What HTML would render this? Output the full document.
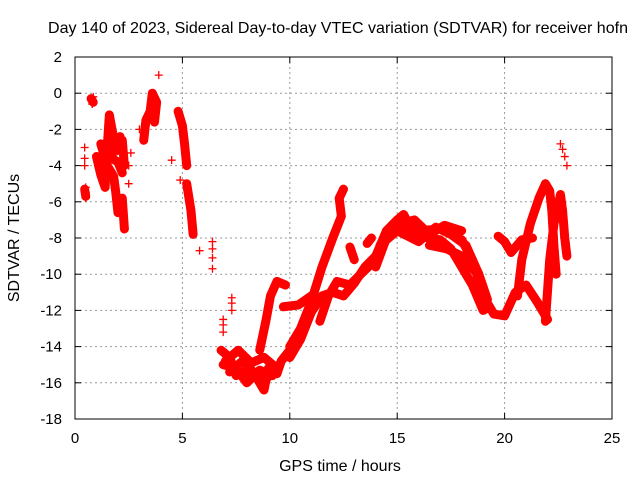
<!DOCTYPE html>
<html><head><meta charset="utf-8"><style>
body{margin:0;background:#fff}
svg{display:block;font-family:"Liberation Sans",sans-serif}
</style></head><body>
<svg width="640" height="480">
<rect width="640" height="480" fill="#fff"/>
<text x="338" y="33" text-anchor="middle" font-size="16" textLength="580" lengthAdjust="spacingAndGlyphs">Day 140 of 2023, Sidereal Day-to-day VTEC variation (SDTVAR) for receiver hofn</text>
<text x="340" y="471" text-anchor="middle" font-size="16">GPS time / hours</text>
<text transform="translate(19,238) rotate(-90)" text-anchor="middle" font-size="16">SDTVAR / TECUs</text>
<g id="grid"></g>
<g id="ticks"></g>
<g id="marks"></g>
<rect x="75" y="57" width="537" height="362" fill="none" stroke="#000"/>
</svg>
<script>
const xTicks=[0,5,10,15,20,25];
const yTicks=[2,0,-2,-4,-6,-8,-10,-12,-14,-16,-18];
const isolatedPoints=[[0.45,-3],[0.45,-3.6],[0.45,-4],[0.5,-5.2],[0.5,-5.5],[0.5,-5.8],[0.75,-0.3],[0.8,-0.6],[0.85,-0.2],[2.5,-5],[2.5,-4],[2.6,-3.3],[3.0,-2],[4.5,-3.7],[4.9,-4.8],[5.8,-8.7],[6.4,-8.2],[6.4,-8.6],[6.4,-9.1],[6.4,-9.7],[6.9,-12.5],[6.9,-12.8],[6.9,-13.2],[7.3,-11.3],[7.3,-11.6],[7.3,-12],[3.9,1],[22.6,-2.8],[22.7,-3.1],[22.8,-3.5],[22.9,-4]];
const tracks=[
[[0.75,-0.3],[0.85,-0.5]],
[[0.45,-5.3],[0.5,-5.7]],
[[1.0,-3.5],[1.2,-4.5],[1.4,-5.2],[1.5,-3],[1.6,-1.2],[1.8,-2.5],[2.0,-3],[2.2,-2.6],[2.3,-4]],
[[1.2,-2.8],[1.5,-4],[1.8,-4.6],[1.9,-5.5],[2.0,-6.6]],
[[1.1,-4],[1.4,-3],[1.7,-3.6],[2.0,-3.8],[2.2,-4.4]],
[[1.6,-2.2],[1.9,-3.2],[2.1,-2.4]],
[[2.2,-5.8],[2.3,-7.5]],
[[3.2,-2.6],[3.3,-1.5],[3.5,-1],[3.6,0],[3.8,-0.5],[3.7,-1.6]],
[[4.8,-1],[5.0,-1.8],[5.1,-2.8],[5.2,-4]],
[[5.2,-5],[5.4,-6.5],[5.5,-7.8]],
[[6.8,-14.2],[7.2,-14.6],[7.5,-15.6],[8.0,-15.3],[8.5,-15.8],[8.8,-16.4],[9.0,-15.2],[9.4,-15.5],[9.6,-14.8],[10.0,-14.2]],
[[7.0,-14.8],[7.6,-14.2],[8.2,-14.9],[8.8,-14.6],[9.2,-15.0]],
[[6.9,-15.0],[7.5,-15.2],[8.0,-16.0],[8.6,-15.3],[9.2,-15.6]],
[[7.2,-15.4],[7.8,-14.8],[8.3,-15.4],[8.9,-15.8],[9.5,-15.0]],
[[8.6,-14.2],[8.9,-12.5],[9.1,-11.2],[9.4,-10.4],[9.8,-10.6]],
[[10.0,-14.0],[10.5,-13],[11.0,-11.5],[11.5,-9.6],[12.0,-8],[12.4,-6.8],[12.3,-5.8],[12.5,-5.3]],
[[10.0,-14.6],[10.5,-13.6],[11.0,-12.1],[11.5,-11.2],[12.0,-11],[12.5,-11.2],[13.0,-10.5],[13.5,-9.6],[14.0,-9.0],[14.5,-7.6],[15.0,-7.0],[15.3,-6.7],[15.6,-7.4],[16.0,-7.6],[17.0,-7.5],[18.0,-8.1],[18.5,-9.2],[19.0,-11.2],[19.5,-12.2],[20.0,-12.3],[20.5,-11],[21.0,-10.6],[21.5,-11.5],[22.0,-12.5]],
[[11.4,-12.6],[11.8,-11.2],[12.2,-10.4],[12.8,-10.6],[13.3,-10.0],[14.0,-9.2]],
[[9.7,-11.8],[10.4,-11.7],[11.0,-11.2]],
[[12.8,-8.5],[13.0,-9.2]],[[13.6,-8.3],[13.8,-8]],
[[14.0,-9.6],[14.5,-8],[15.0,-7.2],[16.0,-7.9],[17.0,-8.1],[17.5,-8.6],[18.0,-9.6],[18.5,-10.6],[19.0,-12],[19.3,-11.8]],
[[14.2,-8.4],[15.0,-7.6],[16.0,-8.2],[16.8,-7.4],[17.5,-7.8],[18.2,-8.4],[18.8,-10.0],[19.2,-11.4]],
[[15.2,-7.2],[15.8,-7.0],[16.5,-7.8],[17.2,-7.3],[18.0,-7.6]],
[[16.5,-8.4],[17.3,-8.6],[18.0,-9.0],[18.6,-9.8]],
[[19.7,-7.9],[20.0,-8.2],[20.3,-8.8],[20.8,-8.1],[21.3,-8.0]],
[[20.6,-11.2],[20.8,-9.2],[21.2,-7.2],[21.6,-5.8],[21.9,-5.0],[22.1,-5.4],[22.2,-6.5],[22.3,-8.5],[22.4,-10]],
[[21.9,-12.6],[22.1,-9.2],[22.3,-7.2],[22.5,-6.2],[22.6,-5.6],[22.7,-6.5],[22.8,-8],[22.9,-9]]
];
const X=h=>75+h*537/25, Y=v=>57+(2-v)*362/20;
const NS="http://www.w3.org/2000/svg";
const grid=document.getElementById('grid'),ticks=document.getElementById('ticks'),marks=document.getElementById('marks');
function mk(tag,attrs,parent){const e=document.createElementNS(NS,tag);for(const k in attrs)e.setAttribute(k,attrs[k]);parent.appendChild(e);return e;}
xTicks.forEach(t=>{const x=X(t);
 if(t>0&&t<25){const g=mk('line',{x1:x,x2:x,y1:57,y2:419,stroke:'#999','stroke-dasharray':'2,3'},grid);}
 mk('line',{x1:x,x2:x,y1:419,y2:413,stroke:'#000'},ticks);mk('line',{x1:x,x2:x,y1:57,y2:63,stroke:'#000'},ticks);
 const tx=mk('text',{x:x,y:443,'text-anchor':'middle','font-size':'15'},ticks);tx.textContent=t;
 
 });
yTicks.forEach(t=>{const y=Y(t);
 if(t<2&&t>-18){const g=mk('line',{x1:75,x2:612,y1:y,y2:y,stroke:'#999','stroke-dasharray':'2,3'},grid);}
 mk('line',{x1:75,x2:81,y1:y,y2:y,stroke:'#000'},ticks);mk('line',{x1:606,x2:612,y1:y,y2:y,stroke:'#000'},ticks);
 const tx=mk('text',{x:62,y:y+5,'text-anchor':'end','font-size':'15'},ticks);tx.textContent=t;
 
 });
function plus(h,v){const x=X(h),y=Y(v);const p=mk('path',{d:`M${x-4},${y}H${x+4}M${x},${y-4}V${y+4}`,stroke:'#f00','stroke-width':1.3,fill:'none'},marks);
 
 }
tracks.forEach(tr=>{const pl=mk('polyline',{points:tr.map(p=>X(p[0])+','+Y(p[1])).join(' '),fill:'none',stroke:'#f00','stroke-width':9,'stroke-linejoin':'round','stroke-linecap':'round'},marks);
 
 
 tr.forEach(p=>plus(p[0],p[1]));});
isolatedPoints.forEach(p=>plus(p[0],p[1]));
</script>
</body></html>
